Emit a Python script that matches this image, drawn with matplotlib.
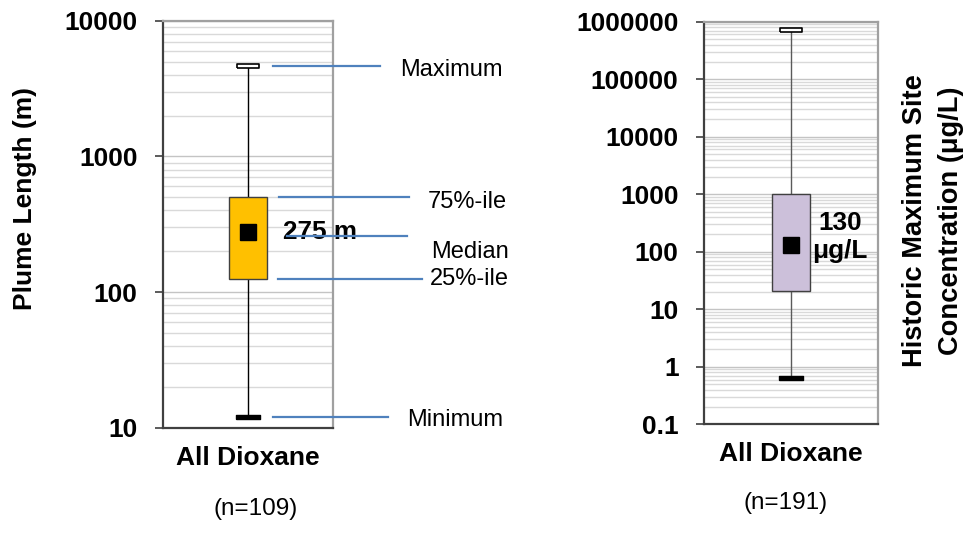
import matplotlib
matplotlib.use("Agg")
import matplotlib.pyplot as plt
import matplotlib.ticker as mticker
from matplotlib.transforms import blended_transform_factory
import numpy as np

plt.rcParams['font.family'] = ['Liberation Sans', 'DejaVu Sans']

# ---------------- data ----------------
category = ["All Dioxane"]

plume_min = 12
plume_q1 = 125
plume_median = 275
plume_q3 = 500
plume_max = 4600
plume_n = 109
plume_ticks = [10, 100, 1000, 10000]
plume_ticklabels = ["10", "100", "1000", "10000"]

conc_min = 0.65
conc_q1 = 21
conc_median = 130
conc_q3 = 1000
conc_max = 720000
conc_n = 191
conc_ticks = [0.1, 1, 10, 100, 1000, 10000, 100000, 1000000]
conc_ticklabels = ["0.1", "1", "10", "100", "1000", "10000", "100000", "1000000"]

annot_labels = ["Maximum", "75%-ile", "Median", "25%-ile", "Minimum"]

# ---------------- figure ----------------
W, H = 964, 535
fig = plt.figure(figsize=(W / 100, H / 100), dpi=100)


def px_axes(l, t, r, b):
    return fig.add_axes([l / W, 1 - b / H, (r - l) / W, (b - t) / H])


ax1 = px_axes(163, 20.7, 333, 427.7)
ax2 = px_axes(704, 21.7, 878, 424.3)

CAP_VERTS = [(-1, -0.21), (1, -0.21), (1, 0.21), (-1, 0.21), (-1, -0.21)]


def draw_box(ax, lo, q1, med, q3, hi, face, whisk_color, ylim, ticks, labels):
    ax.set_yscale('log')
    ax.set_ylim(*ylim)
    ax.set_xlim(-0.5, 0.5)
    ax.set_axisbelow(True)
    ax.yaxis.set_minor_locator(mticker.LogLocator(base=10, subs=np.arange(2, 10), numticks=20))
    ax.yaxis.set_minor_formatter(mticker.NullFormatter())
    ax.grid(True, which='minor', axis='y', color='#D9D9D9', lw=1.0)
    ax.grid(True, which='major', axis='y', color='#C4C4C4', lw=1.0)
    ax.set_yticks(ticks)
    ax.set_yticklabels(labels)
    ax.tick_params(axis='y', which='major', direction='out', length=5.8, width=1.2,
                   color='#404040', pad=12.5, labelsize=19)
    ax.tick_params(axis='y', which='minor', length=0)
    for lab in ax.get_yticklabels():
        lab.set_fontweight('bold')
    ax.set_xticks([0])
    ax.set_xticklabels(category, fontsize=19, fontweight='bold')
    ax.tick_params(axis='x', length=0, pad=13)
    for s in ['left', 'bottom']:
        ax.spines[s].set_color('#404040')
        ax.spines[s].set_linewidth(1.6)
    for s in ['top', 'right']:
        ax.spines[s].set_color('#A0A0A0')
        ax.spines[s].set_linewidth(1.6)

    ax.vlines(0, lo, q1, color=whisk_color, lw=1.0, zorder=2)
    ax.vlines(0, q3, hi, color=whisk_color, lw=1.0, zorder=2)
    ax.bar(0, q3 - q1, bottom=q1, width=0.223, color=face, edgecolor='#404040',
           linewidth=1.0, zorder=3)
    ax.plot(0, med, marker='s', ms=12.2, color='black', zorder=4)
    ax.plot(0, hi, marker=CAP_VERTS, ms=16.5, mfc='white', mec='black', mew=1.2,
            ls='none', zorder=4)
    ax.plot(0, lo, marker=CAP_VERTS, ms=17, mfc='black', mec='black', mew=1.0,
            ls='none', zorder=4)


draw_box(ax1, plume_min, plume_q1, plume_median, plume_q3, plume_max, '#FFC000',
         'black', (10, 10000), plume_ticks, plume_ticklabels)
draw_box(ax2, conc_min, conc_q1, conc_median, conc_q3, conc_max, '#CCC0DA',
         '#5A5A5A', (0.1, 1000000), conc_ticks, conc_ticklabels)

# median labels
ax1.text((283 - 163) / 170, plume_median, f"{plume_median} m", transform=blended_transform_factory(ax1.transAxes, ax1.transData),
         fontsize=18.8, fontweight='bold', ha='left', va='center')
ax2.text((840 - 704) / 174, 1 - (237 - 21.7) / 402.6, f"{conc_median}\nμg/L", transform=ax2.transAxes,
         fontsize=18.8, fontweight='bold', ha='center', va='center', multialignment='center',
         linespacing=1.2)

# annotation lines + labels for left chart
trans = blended_transform_factory(ax1.transAxes, ax1.transData)
line_vals = [plume_max, plume_q3, plume_median * 0.94, plume_q1, plume_min]
line_x = [(273, 380), (279, 409), (287, 407), (278, 422), (273, 388)]
text_pos = [(400, 76), (428, 208), (431, 258), (430, 285), (407, 426)]
for lab, v, (xa, xb), (tx, ty) in zip(annot_labels, line_vals, line_x, text_pos):
    ax1.plot([(xa - 163) / 170, (xb - 163) / 170], [v, v], transform=trans,
             color='#4F81BD', lw=1.6, clip_on=False, zorder=5)
    fig.text(tx / W, 1 - ty / H, lab, fontsize=17, ha='left', va='baseline')

# n labels
fig.text(256 / W, 1 - 509 / H, f"(n={plume_n})", fontsize=17.5, ha='center', va='center')
fig.text(786 / W, 1 - 503 / H, f"(n={conc_n})", fontsize=17.5, ha='center', va='center')

# axis titles
fig.text(25 / W, 1 - 199 / H, "Plume Length (m)", rotation=90, fontsize=19,
         fontweight='bold', ha='center', va='center')
fig.text(933 / W, 1 - 221 / H, "Historic Maximum Site\nConcentration (μg/L)", rotation=90,
         fontsize=19.6, fontweight='bold', ha='center', va='center', multialignment='center',
         linespacing=1.45)

fig.savefig("out.png", dpi=100)
